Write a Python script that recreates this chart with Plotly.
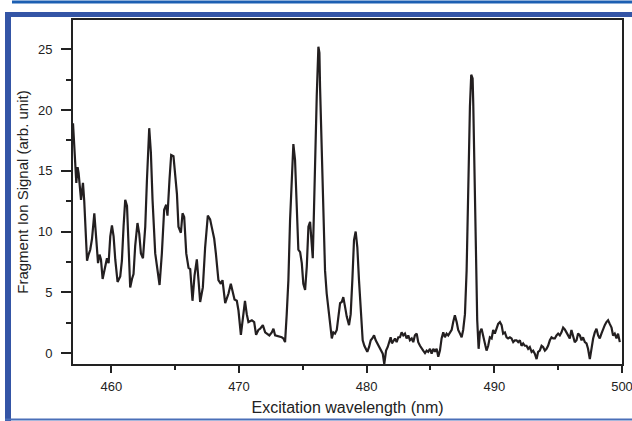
import plotly.graph_objects as go

wavelength = [
    457.00, 457.18, 457.26, 457.36, 457.44, 457.63, 457.78, 457.88, 457.96, 458.10,
    458.22, 458.35, 458.49, 458.67, 458.82, 458.96, 459.08, 459.19, 459.32, 459.47,
    459.66, 459.79, 459.92, 460.05, 460.18, 460.31, 460.49, 460.70, 460.83, 460.96,
    461.09, 461.23, 461.35, 461.48, 461.62, 461.74, 461.87, 462.05, 462.19, 462.32,
    462.48, 462.66, 462.79, 462.97, 463.10, 463.23, 463.44, 463.57, 463.78, 463.96,
    464.14, 464.30, 464.40, 464.56, 464.69, 464.87, 465.00, 465.14, 465.26, 465.45,
    465.58, 465.71, 465.87, 466.05, 466.18, 466.36, 466.52, 466.70, 466.83, 466.96,
    467.17, 467.35, 467.56, 467.74, 467.88, 468.06, 468.19, 468.39, 468.58, 468.71,
    468.92, 469.18, 469.36, 469.52, 469.65, 469.83, 469.96, 470.15, 470.30, 470.47,
    470.61, 470.74, 471.01, 471.19, 471.34, 471.52,
    471.66, 471.87, 472.05, 472.18, 472.38, 472.57, 472.70, 472.83, 473.01, 473.17,
    473.35, 473.48, 473.61, 473.74, 473.87, 474.00, 474.14, 474.26, 474.39, 474.53,
    474.65, 474.79, 474.92, 475.04, 475.18, 475.31, 475.44, 475.57, 475.70, 475.78,
    475.88, 475.98, 476.09, 476.22, 476.30, 476.35, 476.48, 476.61, 476.74, 476.87,
    477.00, 477.13, 477.27, 477.39, 477.52, 477.66, 477.78, 477.92, 478.05, 478.17,
    478.31, 478.44, 478.62, 478.75, 478.88, 479.01, 479.14, 479.27, 479.40, 479.56,
    479.69, 479.82, 479.95, 480.05, 480.19, 480.32, 480.44, 480.58, 480.71, 480.83,
    480.99, 481.12, 481.26, 481.38, 481.52, 481.65, 481.77, 481.88, 481.98, 482.09,
    482.22, 482.35, 482.48, 482.61, 482.74, 482.87, 483.00, 483.13, 483.26, 483.39,
    483.53, 483.65, 483.78, 483.92, 484.04, 484.18, 484.31, 484.43, 484.57, 484.70,
    484.82, 484.96, 485.09, 485.22, 485.35, 485.48, 485.61, 485.74, 485.87, 486.00,
    486.13, 486.26, 486.39, 486.52,
    486.66, 486.78, 486.91, 487.05, 487.17, 487.31, 487.44, 487.56, 487.70, 487.83,
    487.95, 488.09, 488.19, 488.30, 488.35, 488.46, 488.56, 488.66, 488.77, 488.87,
    489.00, 489.13, 489.26, 489.39, 489.52, 489.65, 489.79, 489.91, 490.04, 490.18,
    490.30, 490.44, 490.57, 490.69, 490.83, 490.96, 491.08, 491.22, 491.35, 491.48,
    491.61, 491.74, 491.87, 492.00, 492.13, 492.26, 492.39, 492.52, 492.65, 492.78,
    492.92, 493.04, 493.17, 493.31, 493.43, 493.56, 493.70, 493.82, 493.96, 494.09,
    494.21, 494.35, 494.48, 494.61, 494.74, 494.87, 495.00, 495.13, 495.26, 495.39,
    495.52, 495.65, 495.78, 495.91, 496.04, 496.17, 496.30, 496.44, 496.56, 496.70,
    496.83, 496.95, 497.09, 497.22, 497.34, 497.48, 497.61, 497.74, 497.87, 498.00,
    498.13, 498.26, 498.39, 498.52, 498.65, 498.78, 498.91, 499.04, 499.18, 499.30,
    499.43, 499.57, 499.69, 499.83,
]

signal = [
    18.9, 15.3, 14.0, 15.3, 14.8, 12.6, 14.0, 12.5, 10.9, 7.6,
    8.1, 8.5, 9.4, 11.5, 9.4, 7.4, 8.1, 7.7, 6.1, 6.8,
    7.8, 7.4, 9.6, 10.5, 9.6, 7.7, 5.85, 6.3, 7.6, 10.4,
    12.6, 12.1, 8.8, 5.4, 6.1, 6.5, 8.8, 10.7, 9.8, 8.2,
    7.8, 10.4, 14.2, 18.5, 16.5, 12.6, 8.2, 7.0, 5.6, 8.2,
    11.8, 12.2, 11.3, 14.3, 16.3, 16.2, 14.5, 13.1, 10.4, 9.9,
    11.5, 11.2, 8.2, 7.0, 6.9, 4.3, 6.4, 7.7, 6.0, 4.2,
    5.4, 8.7, 11.3, 11.0, 10.3, 9.4, 8.2, 6.0, 5.7, 6.0,
    4.1, 4.9, 5.7, 5.1, 4.4, 4.3, 3.5, 1.5, 2.7, 4.3,
    3.2, 2.55, 2.7, 2.55, 1.5, 1.9,
    2.0, 2.3, 1.7, 1.6, 1.45, 1.7, 2.0, 1.45, 1.4, 1.3,
    1.3, 1.2, 0.9, 3.2, 6.0, 10.9, 14.8, 17.2, 15.9, 12.0,
    8.5, 8.3, 7.4, 5.7, 5.2, 7.1, 10.4, 10.8, 8.5, 7.8,
    12.0, 17.0, 21.1, 25.2, 24.7, 21.9, 16.4, 10.4, 6.8, 4.9,
    3.5, 2.1, 1.2, 1.7, 1.6, 1.9, 3.2, 4.1, 4.2, 4.6,
    3.8, 3.0, 2.3, 3.2, 6.0, 9.3, 10.0, 8.7, 6.0, 2.7,
    1.05, 0.6, 0.35, 0.1, 0.5, 1.05, 1.2, 1.45, 1.05, 0.8,
    0.5, 0.2, -0.05, -0.9, 0.2, 0.5, 0.9, 1.3, 0.8, 1.05,
    1.2, 0.9, 1.3, 1.3, 1.7, 1.45, 1.6, 1.2, 1.45, 1.05,
    1.2, 0.9, 1.45, 1.6, 0.9, 0.6, 0.35, 0.2, 0.0, 0.2,
    0.1, 0.35, -0.05, 0.35, 0.1, 0.35, -0.3, 0.2, 1.2, 1.7,
    1.3, 1.6, 1.45, 1.7,
    1.9, 2.55, 3.1, 2.55, 1.9, 1.6, 1.3, 1.9, 3.2, 6.8,
    13.7, 20.3, 22.9, 22.6, 20.5, 14.2, 7.6, 2.7, 0.35, 1.7,
    2.0, 1.3, 0.6, 0.2, 0.6, 1.3, 1.2, 1.9, 1.6, 2.0,
    2.4, 2.55, 2.3, 1.6, 1.7, 1.3, 1.2, 1.3, 1.2, 0.9,
    1.05, 1.05, 0.9, 1.05, 0.6, 0.8, 0.6, 0.6, 0.35, 0.5,
    0.1, 0.2, -0.05, -0.5, 0.1, 0.2, 0.6, 0.5, 0.2, 0.35,
    0.6, 1.05, 1.3, 1.2, 1.2, 1.45, 1.6, 1.45, 1.7, 2.1,
    1.95, 1.7, 1.45, 1.2, 1.9, 1.3, 0.9, 1.05, 1.6, 1.45,
    1.05, 1.3, 0.9, 0.8, 0.35, -0.5, 0.5, 1.2, 1.7, 2.0,
    1.45, 1.2, 1.6, 2.0, 2.3, 2.55, 2.7, 2.4, 2.1, 1.45,
    1.6, 1.2, 1.6, 0.9,
]

x_title = "Excitation wavelength (nm)"
y_title = "Fragment Ion Signal (arb. unit)"

fig = go.Figure()
fig.add_trace(go.Scatter(
    x=wavelength, y=signal, mode="lines",
    line=dict(color="#231f20", width=2.2),
    showlegend=False, hoverinfo="skip",
))

tick_font = dict(family="Liberation Sans, Arial, sans-serif", size=13, color="#222222")

fig.update_xaxes(
    range=[457, 500], dtick=10, tick0=460,
    ticks="outside", ticklen=7, tickwidth=1.5, tickcolor="#222222",
    minor=dict(dtick=5, tick0=460, ticks="outside", ticklen=4, tickwidth=1.5, tickcolor="#222222"),
    showline=True, linecolor="#222222", linewidth=1.8, mirror=True,
    showgrid=False, zeroline=False, automargin=False,
    tickfont=tick_font, ticklabelstandoff=2, ticklabeloverflow="allow",
    title=dict(text=x_title, standoff=9,
               font=dict(family="Liberation Sans, Arial, sans-serif", size=16, color="#222222")),
)
fig.update_yaxes(
    range=[-0.9, 27.4], dtick=5, tick0=0,
    ticks="outside", ticklen=10, tickwidth=1.5, tickcolor="#222222",
    minor=dict(dtick=2.5, tick0=0, ticks="outside", ticklen=5, tickwidth=1.5, tickcolor="#222222"),
    showline=True, linecolor="#222222", linewidth=1.8, mirror=True,
    showgrid=False, zeroline=False, automargin=False,
    tickfont=tick_font, ticklabelstandoff=6, ticklabeloverflow="allow",
    title=dict(text=y_title, standoff=6,
               font=dict(family="Liberation Sans, Arial, sans-serif", size=15, color="#222222")),
)

def px_x(p):
    return (p - 73) / 549.0

def px_y(p):
    return (364 - p) / 344.0

shapes = [
    # thin top blue rule
    dict(type="rect", xref="paper", yref="paper", x0=px_x(12), x1=px_x(634),
         y0=px_y(3.5), y1=px_y(0.5), fillcolor="#1c5fb2", line=dict(width=0), layer="above"),
    # thick blue band
    dict(type="rect", xref="paper", yref="paper", x0=px_x(5), x1=px_x(634),
         y0=px_y(17), y1=px_y(12), fillcolor="#3455a6", line=dict(width=0), layer="above"),
    # left blue bar
    dict(type="rect", xref="paper", yref="paper", x0=px_x(5), x1=px_x(11),
         y0=px_y(422), y1=px_y(12), fillcolor="#3455a6", line=dict(width=0), layer="above"),
    # bottom blue line
    dict(type="rect", xref="paper", yref="paper", x0=px_x(5), x1=px_x(634),
         y0=px_y(420.5), y1=px_y(418.5), fillcolor="#4a6fb8", line=dict(width=0), layer="above"),
]

fig.update_layout(
    width=632, height=421,
    margin=dict(l=73, r=10, t=20, b=57),
    paper_bgcolor="white", plot_bgcolor="white",
    shapes=shapes,
    showlegend=False,
)

fig.write_html("out.html")
